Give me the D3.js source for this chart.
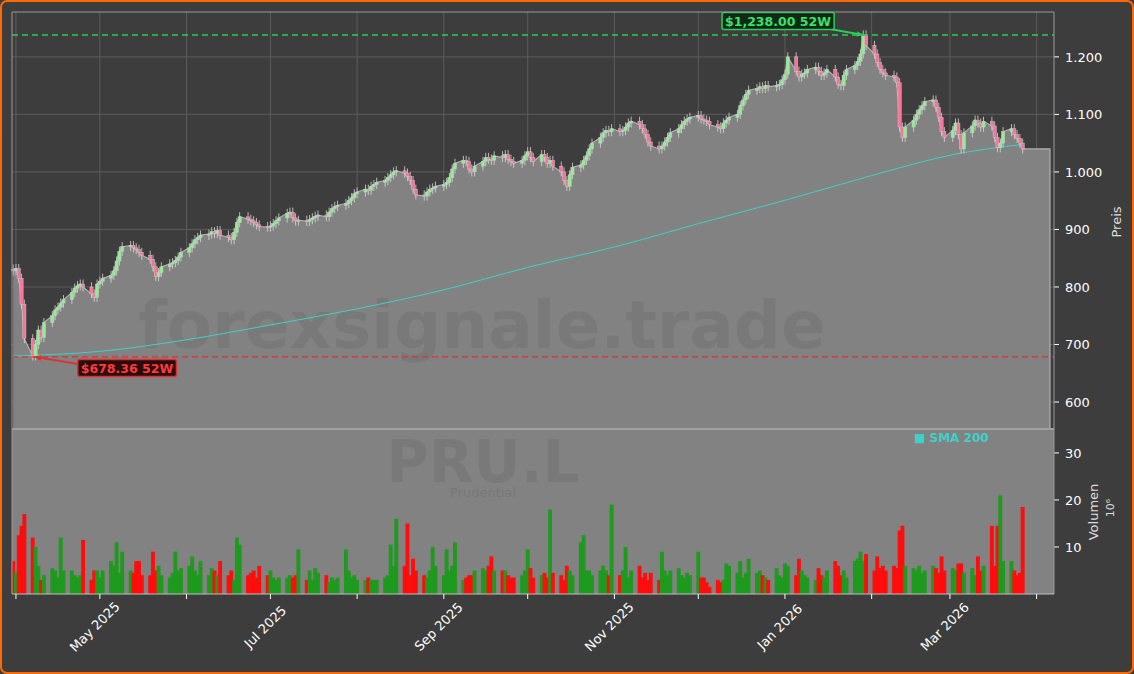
<!DOCTYPE html><html><head><meta charset="utf-8"><script src="https://cdn.jsdelivr.net/npm/d3@7"></script>
<style>body{margin:0;background:#3d3d3d;}svg{display:block}</style></head><body><svg id="c" width="1134" height="674"></svg>
<script>
const closes=[828,832,815,770,710, 680,700,725,712,738, 750,760,765,772,778, 790,798,802,805,800, 788,782,805,810,815,
820,828,845,862,870, 872,868,865,860,855, 848,835,818,825,835, 840,842,846,852,860, 868,875,882,886,890,
892,896,893,898,890, 886,882,895,912,922, 918,915,912,908,905, 904,906,910,915,920, 928,930,920,915,916,
914,917,920,923,925, 922,930,936,940,942, 945,950,955,962,965, 970,968,975,978,982, 985,990,995,1000,1002,
998,992,985,970,960, 958,965,970,972,975, 978,982,990,1005,1015, 1020,1018,1005,1000,1010, 1018,1025,1022,1020,1028,
1025,1030,1022,1018,1015, 1020,1028,1035,1025,1018, 1030,1025,1015,1020,1010, 1000,985,975,995,1008, 1012,1020,1028,1040,1050,
1060,1068,1072,1070,1075, 1070,1072,1078,1085,1088, 1082,1075,1065,1052,1045, 1040,1045,1052,1060,1068, 1075,1082,1088,1092,1095,
1098,1092,1090,1088,1082, 1078,1075,1085,1090,1095, 1100,1115,1125,1135,1142, 1145,1148,1145,1150,1148, 1150,1152,1160,1170,1200,
1175,1165,1170,1172,1178, 1182,1175,1168,1172,1178, 1165,1152,1150,1168,1178, 1185,1192,1205,1238,1220, 1205,1190,1178,1172,1168,
1165,1155,1078,1060,1078, 1090,1100,1108,1115,1122, 1125,1112,1095,1070,1060, 1072,1085,1065,1040,1068, 1080,1090,1085,1078,1088,
1080,1060,1042,1050,1070, 1075,1065,1058,1050,1040];
const volumes=[7,4.5,12.5,14.5,17, 12,10,6,3,4, 5.5,5,3.5,12,5, 5,4,3.5,4,11.5, 3,5,5,3.5,5, 7,6,11,4.5,9, 5,4.5,7,7,4,
4,9,5,6,4, 3.5,4.5,9,5,5.5, 6,8,5,4,7, 4,5.5,5,4,7, 4,5,3,12,10.5, 4,4.5,5,3.5,6, 4,5,3.5,3,3.5, 3.5,4,3.5,4,9.5,
3,5,3,5.5,4.5, 4,2.5,3.5,3,3.5, 9.5,5,3.5,4,3, 3,3.5,3,3,3, 3.5,4,10.5,6,16, 6,15,4,7.5,5, 4,3.5,5,10,6,
4,9.5,5,6,11, 3,3.5,4,4,5, 5.5,5,6,8,5, 5,5,4,3.5,3.5, 4,5,9.5,5.5,3.5, 4,4.5,3.5,18,4.5, 4,3,6,5,4,
11,12.5,5,5,4, 5,6,5,4,19, 4,5,10,3.5,5, 6,3.5,4.5,3,4.5, 3,9,5,4,5, 5.5,4,3.5,4.5,4, 9,3.5,3.5,2.5,1.5,
3,2.5,3,6.5,6, 4.5,7,3.5,4.5,7.5, 4.5,5,4,3.5,3, 5.5,4,3.5,6.5,6, 4,7.5,5,4,3.5, 3,5.5,4,3.5,5, 7,6,4,5,3.5,
7,7.5,9,7,8.5, 5,8,5.5,6,5, 6,5.5,13.5,14.5,6, 5.5,5,6,4.5,5, 6,5.5,4.5,8,5, 5.5,5,6.5,6.5,4.5, 5.5,4,8,5,6,
14.5,6,14.5,21,7, 7,5,4,4.5,18.5];
const smaDates=["2025-03-31","2025-05-01","2025-06-02","2025-07-01","2025-08-01","2025-09-01","2025-10-01","2025-11-03","2025-12-01","2026-01-02","2026-02-02","2026-03-02","2026-03-27"];
const smaValues=[680,688,709,734,762,795,834,872,910,952,995,1030,1048];
const priceTicks=[600,700,800,900,1000,1100,1200];
const volTicks=[10,20,30];
const high52=1238.00, low52=678.36;

const dates=[];{let d=new Date(2025,2,31);while(dates.length<closes.length){const w=d.getDay();if(w>0&&w<6)dates.push(new Date(d));d=d3.timeDay.offset(d,1);}}
const data=dates.map((d,i)=>({d,c:closes[i],o:i?closes[i-1]:closes[0]+3,v:volumes[i]}));

const svg=d3.select("#c");
const L=12,R=1054,PT=12,PB=428,VB=594;
const x=d3.scaleTime().domain([new Date(2025,2,30,14),new Date(2026,3,7,5)]).range([L,R]);
const y=d3.scaleLinear().domain([554.8,1278]).range([PB,PT]);
const yv=d3.scaleLinear().domain([0,35.3]).range([VB,PB]);
const fmt=d3.format(",");
const de=v=>fmt(v).replace(/,/g,".");

svg.append("rect").attr("x",1).attr("y",1).attr("width",1132).attr("height",672).attr("rx",6).attr("fill","#3d3d3d").attr("stroke","#ff6a00").attr("stroke-width",2);
const g=svg.append("g");
priceTicks.forEach(t=>g.append("line").attr("x1",L).attr("x2",R).attr("y1",y(t)).attr("y2",y(t)).attr("stroke","#5c5c5c"));
const months=d3.timeMonth.range(new Date(2025,3,1),new Date(2026,3,2));
months.forEach(m=>g.append("line").attr("x1",x(m)).attr("x2",x(m)).attr("y1",PT).attr("y2",PB).attr("stroke","#5c5c5c"));
const lastX=1050;
const pts=data.map(d=>[x(d.d),y(d.c)]);const lp=pts[pts.length-1];
const poly=[...pts,[lastX,lp[1]],[lastX,PB],[pts[0][0],PB]];
svg.append("path").attr("d","M"+poly.map(p=>p.join(",")).join("L")+"Z").attr("fill","#828282");
svg.append("path").attr("d","M"+[...pts,[lastX,lp[1]],[lastX,PB]].map(p=>p.join(",")).join("L")).attr("fill","none").attr("stroke","#b0b0b0").attr("stroke-width",1.2);
svg.append("rect").attr("x",L).attr("y",PB).attr("width",R-L).attr("height",VB-PB).attr("fill","#828282");
svg.append("line").attr("x1",L).attr("x2",R).attr("y1",PB+1).attr("y2",PB+1).attr("stroke","#a0a0a0").attr("stroke-width",2);
svg.append("text").attr("x",482).attr("y",348).attr("text-anchor","middle").attr("font-family","DejaVu Sans").attr("font-weight","bold").attr("font-size",66).attr("fill","#000").attr("opacity",0.06).text("forexsignale.trade");
svg.append("text").attr("x",483).attr("y",482).attr("text-anchor","middle").attr("font-family","DejaVu Sans").attr("font-weight","bold").attr("font-size",58).attr("fill","#000").attr("opacity",0.06).text("PRU.L");
svg.append("text").attr("x",483).attr("y",497).attr("text-anchor","middle").attr("font-family","DejaVu Sans").attr("font-size",13).attr("fill","#000").attr("opacity",0.08).text("Prudential");
const bw=3.9;
svg.append("g").selectAll("rect").data(data).join("rect").attr("x",d=>x(d.d)-bw/2).attr("width",bw).attr("y",d=>yv(d.v)).attr("height",d=>VB-yv(d.v)).attr("fill",d=>d.c>=d.o?"#1e9a1e":"#ff0d0d");
svg.append("path").datum(smaDates.map((s,i)=>[d3.timeParse("%Y-%m-%d")(s),smaValues[i]])).attr("d",d3.line().x(d=>x(d[0])).y(d=>y(d[1])).curve(d3.curveMonotoneX)).attr("fill","none").attr("stroke","#40d0c8").attr("stroke-width",1);
const cg=svg.append("g");
data.forEach(d=>{const cx=x(d.d),hi=Math.max(d.o,d.c),lo=Math.min(d.o,d.c);const up=d.c>=d.o;
 cg.append("line").attr("x1",cx).attr("x2",cx).attr("y1",y(hi+8)).attr("y2",y(lo-8)).attr("stroke","#d8d8d8").attr("stroke-width",0.8);
 cg.append("rect").attr("x",cx-1.6).attr("width",3.2).attr("y",y(hi)).attr("height",Math.max(1,y(lo)-y(hi))).attr("fill",up?"#90ee90":"#ff6f9a").attr("stroke","#c8c8c8").attr("stroke-width",0.5);});
svg.append("line").attr("x1",L).attr("x2",R).attr("y1",y(high52)).attr("y2",y(high52)).attr("stroke","#2ecc5a").attr("stroke-width",1.3).attr("stroke-dasharray","6,4");
svg.append("line").attr("x1",L).attr("x2",R).attr("y1",y(low52)).attr("y2",y(low52)).attr("stroke","#e03030").attr("stroke-width",1.3).attr("stroke-dasharray","6,4");
function ann(bx,by,ax,ay,col){
 svg.append("line").attr("x1",bx).attr("y1",by).attr("x2",ax).attr("y2",ay).attr("stroke",col).attr("stroke-width",1.8);
 const a=Math.atan2(ay-by,ax-bx);const s=7;
 svg.append("path").attr("d",`M${ax},${ay}L${ax-s*Math.cos(a-0.4)},${ay-s*Math.sin(a-0.4)}L${ax-s*Math.cos(a+0.4)},${ay-s*Math.sin(a+0.4)}Z`).attr("fill",col);
}
const hiD=data.find(d=>d.c===high52).d, loD=data[5].d;
ann(830,29,x(hiD),y(high52),"#2ecc5a");
ann(90,366,x(loD)+2,y(low52),"#e03030");
function box(txt,cx,cy,col,fill,tc){const t=svg.append("text").attr("x",cx).attr("y",cy+4.5).attr("text-anchor","middle").attr("font-family","DejaVu Sans").attr("font-weight","bold").attr("font-size",12.5).attr("fill",tc).text(txt);
 const b=t.node().getBBox();svg.insert("rect",()=>t.node()).attr("x",b.x-3).attr("y",cy-8.5).attr("width",b.width+6).attr("height",17).attr("rx",2).attr("fill",fill).attr("stroke",col).attr("stroke-width",1.5);}
box("$1,238.00 52W",778,21,"#2ecc5a","#0c2a14","#3ee06a");
box("$678.36 52W",127,368,"#e03030","#2a0c0c","#ff3a3a");
svg.append("text").attr("x",914).attr("y",442).attr("font-family","DejaVu Sans").attr("font-weight","bold").attr("font-size",12).attr("fill","#40d0c8").text("■ SMA 200");
const ax=svg.append("g").attr("font-family","DejaVu Sans").attr("font-size",13).attr("fill","#fff");
priceTicks.forEach(t=>{ax.append("line").attr("x1",R).attr("x2",R+5).attr("y1",y(t)).attr("y2",y(t)).attr("stroke","#fff");ax.append("text").attr("x",R+11).attr("y",y(t)+5).text(de(t));});
volTicks.forEach(t=>{ax.append("line").attr("x1",R).attr("x2",R+5).attr("y1",yv(t)).attr("y2",yv(t)).attr("stroke","#fff");ax.append("text").attr("x",R+11).attr("y",yv(t)+5).text(t);});
ax.append("line").attr("x1",R).attr("x2",R).attr("y1",PT).attr("y2",VB).attr("stroke","#9a9a9a");
ax.append("line").attr("x1",L).attr("x2",R).attr("y1",PT).attr("y2",PT).attr("stroke","#9a9a9a");
ax.append("line").attr("x1",L).attr("x2",L).attr("y1",PT).attr("y2",VB).attr("stroke","#9a9a9a");
ax.append("line").attr("x1",L).attr("x2",R).attr("y1",VB).attr("y2",VB).attr("stroke","#c0c0c0");
ax.append("text").attr("transform","translate(1121,222) rotate(-90)").attr("text-anchor","middle").attr("fill","#ddd").text("Preis");
ax.append("text").attr("transform","translate(1098,512) rotate(-90)").attr("text-anchor","middle").attr("fill","#ddd").text("Volumen");
ax.append("text").attr("transform","translate(1114,508) rotate(-90)").attr("text-anchor","middle").attr("fill","#ddd").attr("font-size",11).text("10⁶");
const mf=d3.timeFormat("%b %Y");
months.forEach((m,i)=>{const mx=x(m);ax.append("line").attr("x1",mx).attr("x2",mx).attr("y1",VB).attr("y2",VB+5).attr("stroke","#fff");
 if(m.getMonth()%2===0)ax.append("text").attr("transform",`translate(${mx-2},${VB+36}) rotate(-45)`).attr("text-anchor","middle").attr("font-size",13).text(mf(m));});
</script></body></html>
